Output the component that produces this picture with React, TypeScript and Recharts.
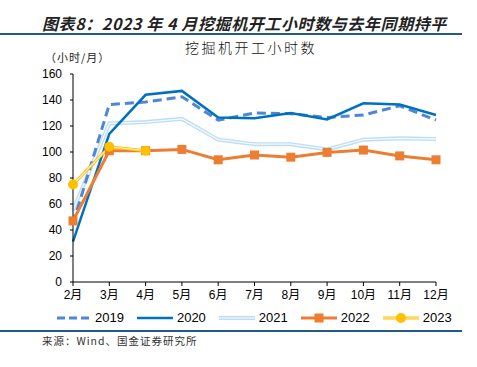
import React from 'react';
import { LineChart, Line, XAxis, YAxis, Legend } from 'recharts';

const months = ['2月', '3月', '4月', '5月', '6月', '7月', '8月', '9月', '10月', '11月', '12月'];
const y2019 = [45, 136.5, 138.5, 142.5, 124.5, 130, 129.5, 126.5, 128.5, 135.5, 124.5];
const y2020 = [31, 114, 144, 147, 126.5, 126, 130, 125, 137.5, 136.5, 128.5];
const y2021 = [55, 122, 123, 125.5, 109.5, 106, 106, 102, 109.5, 110.5, 110];
const y2022 = [47, 101, 101, 102, 94, 97.7, 96, 99.7, 101.5, 97, 94];
const y2023: (number | null)[] = [75, 104, 101, null, null, null, null, null, null, null, null];
const yTicks = [0, 20, 40, 60, 80, 100, 120, 140, 160];

const data = months.map((m, i) => ({
  month: m,
  y2019: y2019[i],
  y2020: y2020[i],
  y2021: y2021[i],
  y2022: y2022[i],
  y2023: y2023[i],
}));

const FONT = '"Liberation Sans", Arial, "Noto Sans CJK SC", sans-serif';

const SquareDot = (props: any) => {
  const { cx, cy, index } = props;
  if (cx == null || cy == null) return <g key={index} />;
  return <rect key={index} x={cx - 4.5} y={cy - 4.5} width={9} height={9} fill="#ED7D31" />;
};

// legend icons drawn by hand so the double lines look right
const legendItems = [
  { label: '2019', icon: <line x1={2} y1={6} x2={34} y2={6} stroke="#4F86D6" strokeWidth={3} strokeDasharray="8 4" /> },
  { label: '2020', icon: <line x1={0} y1={6} x2={36} y2={6} stroke="#0070C0" strokeWidth={2.5} /> },
  {
    label: '2021',
    icon: (
      <g>
        <line x1={0} y1={6} x2={36} y2={6} stroke="#BDDDF4" strokeWidth={4} strokeLinecap="round" />
        <line x1={0} y1={6} x2={36} y2={6} stroke="#E8F3FB" strokeWidth={1.5} />
      </g>
    ),
  },
  {
    label: '2022',
    icon: (
      <g>
        <line x1={0} y1={6} x2={36} y2={6} stroke="#ED7D31" strokeWidth={3} />
        <rect x={13.5} y={1.5} width={9} height={9} fill="#ED7D31" />
      </g>
    ),
  },
  {
    label: '2023',
    icon: (
      <g>
        <line x1={0} y1={6} x2={36} y2={6} stroke="#FFC000" strokeWidth={3} strokeLinecap="round" />
        <line x1={0} y1={6} x2={36} y2={6} stroke="#FFEFB8" strokeWidth={1.2} />
        <circle cx={18} cy={6} r={5} fill="#FFC000" />
      </g>
    ),
  },
];

const renderLegend = () => (
  <div style={{ display: 'flex', justifyContent: 'flex-start', paddingLeft: 55, fontFamily: FONT, fontSize: 13, color: '#000' }}>
    {legendItems.map((it) => (
      <div key={it.label} style={{ display: 'flex', alignItems: 'center', marginRight: 13 }}>
        <svg width={36} height={12} style={{ marginRight: 4 }}>
          {it.icon}
        </svg>
        <span>{it.label}</span>
      </div>
    ))}
  </div>
);

export default function App() {
  return (
    <div style={{ position: 'absolute', left: 0, top: 0, width: 477, height: 367, background: '#fff', overflow: 'hidden' }}>
      <div
        style={{
          position: 'absolute', left: 42, top: 11, fontFamily: '"Noto Sans CJK SC", sans-serif', fontSize: 16,
          fontWeight: 700, fontStyle: 'italic', color: '#222', whiteSpace: 'nowrap', letterSpacing: 0.6,
        }}
      >
        图表8：2023 年 4 月挖掘机开工小时数与去年同期持平
      </div>
      <div style={{ position: 'absolute', left: 0, top: 33, width: 462, height: 1.5, background: '#1F5C86' }} />
      <div
        style={{
          position: 'absolute', left: 0, width: 502, top: 37, textAlign: 'center', fontFamily: '"Noto Sans CJK SC", sans-serif',
          fontSize: 14, fontWeight: 300, letterSpacing: 2.5, color: '#111', whiteSpace: 'nowrap',
        }}
      >
        挖掘机开工小时数
      </div>
      <div style={{ position: 'absolute', left: 45, top: 49, fontFamily: '"Noto Sans CJK SC", sans-serif', fontSize: 11, color: '#222', letterSpacing: 1 }}>
        （小时/月）
      </div>
      <div style={{ position: 'absolute', left: 0, top: 0 }}>
        <LineChart width={477} height={367} data={data} margin={{ top: 74, right: 41, bottom: 65, left: 40 }}>
          <XAxis
            dataKey="month"
            axisLine={{ stroke: '#000' }}
            tickLine={{ stroke: '#000' }}
            tickSize={4}
            tickMargin={4}
            height={20}
            interval={0}
            tick={{ fill: '#000', fontSize: 12, fontFamily: FONT }}
          />
          <YAxis
            domain={[0, 160]}
            ticks={yTicks}
            width={33}
            axisLine={{ stroke: '#000' }}
            tickLine={{ stroke: '#000' }}
            tickSize={3}
            tickMargin={8}
            interval={0}
            tick={{ fill: '#000', fontSize: 12, fontFamily: FONT }}
          />
          <Legend
            verticalAlign="middle"
            align="center"
            content={renderLegend}
            wrapperStyle={{ top: 310, left: 0, width: 477 }}
          />
          <Line dataKey="y2021" stroke="#BDDDF4" strokeWidth={4} dot={false} isAnimationActive={false} />
          <Line dataKey="y2021" stroke="#F4FAFE" strokeWidth={1.3} dot={false} isAnimationActive={false} />
          <Line dataKey="y2019" stroke="#4F86D6" strokeWidth={3} strokeDasharray="9 5" dot={false} isAnimationActive={false} />
          <Line dataKey="y2020" stroke="#0070C0" strokeWidth={2.5} dot={false} isAnimationActive={false} />
          <Line dataKey="y2022" stroke="#ED7D31" strokeWidth={3} dot={SquareDot} isAnimationActive={false} />
          <Line dataKey="y2023" stroke="#FFC000" strokeWidth={3} dot={false} isAnimationActive={false} />
          <Line
            dataKey="y2023"
            stroke="#FFEFB8"
            strokeWidth={1.2}
            dot={{ r: 5, fill: '#FFC000', stroke: 'none' }}
            isAnimationActive={false}
          />
        </LineChart>
      </div>
      <div style={{ position: 'absolute', left: 0, top: 330, width: 462, height: 1.5, background: '#1F5C86' }} />
      <div
        style={{
          position: 'absolute', left: 42, top: 333, fontFamily: '"Noto Sans CJK SC", monospace', fontSize: 10.5,
          letterSpacing: 1, color: '#333', whiteSpace: 'nowrap',
        }}
      >
        来源：Wind、国金证券研究所
      </div>
    </div>
  );
}
